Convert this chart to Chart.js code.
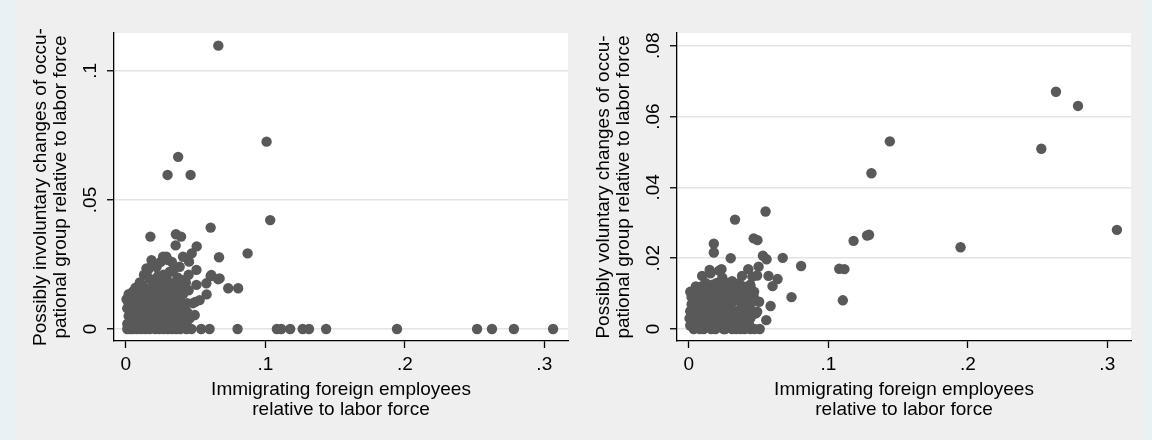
<!DOCTYPE html>
<html><head><meta charset="utf-8">
<script src="https://cdn.jsdelivr.net/npm/chart.js@4.4.1/dist/chart.umd.min.js"></script>
<style>
html,body{margin:0;padding:0;}
body{width:1152px;height:440px;background:#e8f1f3;position:relative;overflow:hidden;}
#bg{position:absolute;left:16px;top:0;width:1127px;height:440px;background:#efefef;}
.panel{position:absolute;top:0;width:576px;height:440px;}
</style></head><body>
<div id="bg"></div>
<div class="panel" style="left:0"><canvas id="c1" width="576" height="440"></canvas></div>
<div class="panel" style="left:576px"><canvas id="c2" width="576" height="440"></canvas></div>
<script>
// ---- data ----
const xTicks = [0, 0.1, 0.2, 0.3];
const xTickLabels = ["0", ".1", ".2", ".3"];
const xTitle = ["Immigrating foreign employees", "relative to labor force"];

const leftYTicks = [0, 0.05, 0.1];
const leftYTickLabels = ["0", ".05", ".1"];
const leftYTitle = ["Possibly involuntary changes of occu-", "pational group relative to labor force"];

const rightYTicks = [0, 0.02, 0.04, 0.06, 0.08];
const rightYTickLabels = ["0", ".02", ".04", ".06", ".08"];
const rightYTitle = ["Possibly voluntary changes of occu-", "pational group relative to labor force"];

const leftPoints = [
 [0.0663,0.1098],[0.1009,0.0726],[0.0375,0.0667],[0.0299,0.0597],[0.0464,0.0597],[0.1035,0.0422],[0.0608,0.0393],
 [0.0176,0.0358],[0.0359,0.0367],[0.0396,0.0358],[0.0357,0.0324],[0.0508,0.0320],[0.0873,0.0293],[0.0668,0.0278],
 [0.0472,0.0293],[0.0734,0.0158],[0.0805,0.0158],[0.0661,0.0193],[0.0608,0.0205],[0.0579,0.0134],[0.0498,0.0105],
 [0.0540,0],[0.0600,0],[0.0801,0],[0.1083,0],[0.1114,0],[0.1178,0],[0.1268,0],[0.1313,0],[0.1436,0],[0.1944,0],
 [0.2518,0],[0.2625,0],[0.2782,0],[0.3063,0],
 [0.0453,0.0261],[0.0184,0.0267],[0.0148,0.0235],[0.0267,0.0280],[0.0303,0.0267],[0.0386,0.0241],[0.0506,0.0229],
 [0.0613,0.0209],[0.0672,0.0196],[0.0577,0.0177],[0.0506,0.0171],[0.0064,0.0151],[0.0136,0.0151],[0.0207,0.0183],
 [0.0291,0.0203],[0.0410,0.0177],[0.0529,0.0112],[0.0481,0.0100],[0.0494,0.0054],[0.0458,0.0041],[0.0434,0.0022],
 [0.0434,0],[0.0470,0],[0.0315,0.0222],[0.0338,0.0171],[0.0290,0.0155],[0.0363,0.0132],[0.0320,0.0100],
 [0.0386,0.0106],[0.0410,0.0074],[0.0338,0.0041],
 [0.001,0],[0.003,0],[0.005,0],[0.008,0],[0.011,0],[0.014,0],[0.017,0],[0.021,0],[0.024,0],[0.027,0],[0.030,0],
 [0.033,0],[0.036,0],[0.039,0],
 [0.001,0.002],[0.002,0.005],[0.001,0.008],[0.003,0.003],[0.004,0.007],[0.002,0.010],[0.005,0.004],[0.006,0.009],
 [0.007,0.002],[0.008,0.006],[0.009,0.011],[0.010,0.003],[0.011,0.008],[0.012,0.013],[0.013,0.005],[0.014,0.010],
 [0.015,0.002],[0.016,0.007],[0.017,0.012],[0.018,0.004],[0.019,0.009],[0.020,0.014],[0.021,0.006],[0.022,0.011],
 [0.023,0.003],[0.024,0.008],[0.025,0.013],[0.026,0.005],[0.027,0.010],[0.028,0.016],[0.029,0.007],[0.030,0.012],
 [0.031,0.004],[0.032,0.009],[0.033,0.014],[0.034,0.006],[0.035,0.011],[0.036,0.018],[0.037,0.003],[0.038,0.008],
 [0.039,0.013],[0.040,0.005],[0.042,0.016],[0.044,0.010],[0.003,0.012],[0.006,0.013],[0.009,0.015],[0.012,0.002],
 [0.015,0.014],[0.018,0.016],[0.021,0.019],[0.024,0.017],[0.027,0.021],[0.022,0.024],[0.025,0.026],[0.019,0.025],
 [0.016,0.023],[0.031,0.018],[0.034,0.023],[0.037,0.020],[0.040,0.019],[0.043,0.018],[0.045,0.021],[0.041,0.028],
 [0.033,0.026],[0.029,0.028],[0.013,0.021],[0.010,0.018],[0.007,0.016],
 [0.002,0.0135],[0.004,0.001],[0.005,0.011],[0.007,0.006],[0.008,0.013],[0.010,0.0095],[0.011,0.0015],[0.012,0.0065],
 [0.013,0.0115],[0.014,0.004],[0.016,0.0105],[0.017,0.0055],[0.018,0.0135],[0.019,0.001],[0.020,0.0075],[0.022,0.0025],
 [0.022,0.0155],[0.023,0.0095],[0.024,0.005],[0.025,0.0005],[0.026,0.0115],[0.027,0.0065],[0.028,0.002],[0.029,0.012],
 [0.030,0.0085],[0.031,0.0145],[0.032,0.0055],[0.033,0.001],[0.034,0.0105],[0.036,0.0075],[0.037,0.0125],[0.038,0.0025],
 [0.040,0.0095],[0.041,0.0135],[0.042,0.0045],[0.044,0.0065],[0.045,0.015],[0.039,0.0165],[0.035,0.0155],[0.026,0.0175],
 [0.023,0.0205],[0.017,0.0195],[0.012,0.017],[0.005,0.0145],[0.0005,0.0115]
];

const rightPoints = [
 [0.2632,0.0670],[0.2790,0.0630],[0.1441,0.0530],[0.2527,0.0509],[0.1309,0.0440],[0.0550,0.0332],[0.0331,0.0309],
 [0.3069,0.0280],[0.1278,0.0264],[0.1292,0.0266],[0.1181,0.0249],[0.0465,0.0256],[0.0492,0.0251],[0.0179,0.0241],
 [0.0179,0.0216],[0.1948,0.0231],[0.0531,0.0207],[0.0557,0.0197],[0.0673,0.0201],[0.0300,0.0200],[0.0805,0.0178],
 [0.1078,0.0170],[0.1115,0.0169],[0.1104,0.0081],[0.0736,0.0090],[0.0586,0.0065],[0.0555,0.0025],[0.0636,0.0141],
 [0.0600,0.0121],[0.0571,0.0150],[0.0500,0.0176],[0.0489,0.0151],[0.0426,0.0169],[0.0455,0.0148],[0.0381,0.0150],
 [0.0360,0.0129],[0.0234,0.0169],[0.0155,0.0157],[0.0095,0.0150],[0.0442,0.0096],[0.0481,0.0044],[0.0508,0],
 [0.0250,0.0124],[0.0298,0.0118],[0.0070,0.0096],[0.0441,0.0121],[0.0429,0.0091],[0.0465,0.0091],
 [0.0490,0.0049],[0.0441,0],[0.0370,0],[0.0310,0],[0.0250,0],[0.0190,0],[0.0106,0],[0.0035,0],[0.0468,0.0105],
 [0.0504,0.0077],[0.0456,0.0040],[0.0408,0.0020],[0.0276,0.0120],[0.0217,0.0165],[0.0149,0.0167],[0.0078,0.0096],
 [0.0042,0.0054],
 [0.001,0.001],[0.002,0.003],[0.001,0.005],[0.003,0.002],[0.004,0.004],[0.002,0.007],[0.005,0.001],[0.006,0.006],
 [0.007,0.003],[0.008,0.008],[0.009,0.001],[0.010,0.005],[0.011,0.010],[0.012,0.003],[0.013,0.007],[0.014,0.001],
 [0.015,0.004],[0.016,0.009],[0.017,0.002],[0.018,0.006],[0.019,0.011],[0.020,0.003],[0.021,0.008],[0.022,0.001],
 [0.023,0.005],[0.024,0.010],[0.025,0.002],[0.026,0.007],[0.027,0.004],[0.028,0.009],[0.029,0.001],[0.030,0.006],
 [0.031,0.011],[0.032,0.003],[0.033,0.008],[0.034,0.001],[0.035,0.005],[0.036,0.010],[0.037,0.002],[0.038,0.007],
 [0.039,0.004],[0.040,0.009],[0.041,0.001],[0.042,0.006],[0.044,0.003],[0.043,0.010],[0.046,0.005],[0.003,0.009],
 [0.006,0.010],[0.009,0.012],[0.012,0.013],[0.014,0.011],[0.020,0.013],[0.027,0.013],[0.033,0.012],[0.039,0.012],
 [0.008,0],[0.016,0],[0.026,0],[0.034,0],[0.040,0],[0.047,0],
 [0.002,0.009],[0.004,0.0075],[0.005,0.0095],[0.007,0.0005],[0.008,0.0045],[0.010,0.002],[0.011,0.0065],[0.012,0.0095],
 [0.013,0.0035],[0.015,0.0075],[0.016,0.0005],[0.017,0.0055],[0.018,0.0095],[0.019,0.0025],[0.021,0.0045],[0.022,0.0085],
 [0.023,0.0005],[0.024,0.0065],[0.025,0.0095],[0.026,0.0035],[0.028,0.0055],[0.029,0.0095],[0.030,0.0025],[0.031,0.0075],
 [0.032,0.0005],[0.033,0.0045],[0.035,0.0085],[0.036,0.0025],[0.037,0.0055],[0.038,0.0105],[0.039,0.0005],[0.040,0.0035],
 [0.041,0.0065],[0.042,0.0095],[0.043,0.0015],[0.045,0.0075],[0.044,0.0125],[0.031,0.0135],[0.024,0.0145],[0.017,0.0125],
 [0.012,0.0115],[0.005,0.012],[0.001,0.0105],[0.0005,0.003]
];

// ---- rendering ----
const FONT = "'Liberation Sans', Arial, Helvetica, sans-serif";
const MARKER = '#595959';

const whiteArea = {
  id: 'whiteArea',
  beforeDraw(chart) {
    const a = chart.chartArea, ctx = chart.ctx;
    ctx.save(); ctx.fillStyle = '#ffffff';
    ctx.fillRect(a.left, a.top, a.right - a.left, a.bottom - a.top);
    ctx.restore();
  }
};

function makeChart(id, points, cfg) {
  return new Chart(document.getElementById(id), {
    type: 'scatter',
    data: { datasets: [{
      data: points.map(p => ({x: p[0], y: p[1]})),
      backgroundColor: MARKER, borderColor: MARKER, borderWidth: 0,
      pointRadius: 5.2, pointHoverRadius: 5.2
    }]},
    options: {
      responsive: false, animation: false, devicePixelRatio: 1,
      events: [],
      layout: { padding: { left: 0, top: 33, right: 576 - cfg.areaRight, bottom: 0 } },
      plugins: { legend: { display: false }, tooltip: { enabled: false } },
      scales: {
        x: {
          type: 'linear', min: -0.0085, max: 0.317,
          afterBuildTicks: s => { s.ticks = xTicks.map(v => ({value: v})); },
          afterFit: s => { s.height = 99; },
          ticks: { callback: (v, i) => xTickLabels[i], font: { family: FONT, size: 19 }, color: '#000',
                   padding: 5, minRotation: 0, maxRotation: 0, autoSkip: false },
          grid: { drawOnChartArea: false, drawTicks: true, tickLength: 7, tickColor: '#000', tickWidth: 1.3 },
          border: { display: true, color: '#000', width: 1.3 },
          title: { display: true, text: xTitle, color: '#000',
                   font: { family: FONT, size: 19, lineHeight: 1.05 }, padding: { top: 0, bottom: 20 } }
        },
        y: {
          type: 'linear', min: cfg.yMin, max: cfg.yMax,
          afterBuildTicks: s => { s.ticks = cfg.yTicks.map(v => ({value: v})); },
          afterFit: s => { s.width = cfg.areaLeft; },
          ticks: { callback: (v, i) => cfg.yTickLabels[i], font: { family: FONT, size: 19 }, color: '#000',
                   padding: 3, minRotation: 90, maxRotation: 90, crossAlign: 'center', autoSkip: false },
          grid: { drawOnChartArea: true, color: '#e4e4e4', lineWidth: 1.5, tickLength: 7,
                  tickColor: '#000', tickWidth: 1.3 },
          border: { display: true, color: '#000', width: 1.3 },
          title: { display: true, text: cfg.yTitle, color: '#000',
                   font: { family: FONT, size: 19, lineHeight: 1.05 }, padding: { top: cfg.titlePad, bottom: 0 } }
        }
      }
    },
    plugins: [whiteArea]
  });
}

makeChart('c1', leftPoints, {
  areaLeft: 114, areaRight: 568, yMin: -0.00465, yMax: 0.1147,
  yTicks: leftYTicks, yTickLabels: leftYTickLabels, yTitle: leftYTitle, titlePad: 31
});
makeChart('c2', rightPoints, {
  areaLeft: 101, areaRight: 555, yMin: -0.00339, yMax: 0.0836,
  yTicks: rightYTicks, yTickLabels: rightYTickLabels, yTitle: rightYTitle, titlePad: 18
});
</script>
</body></html>
